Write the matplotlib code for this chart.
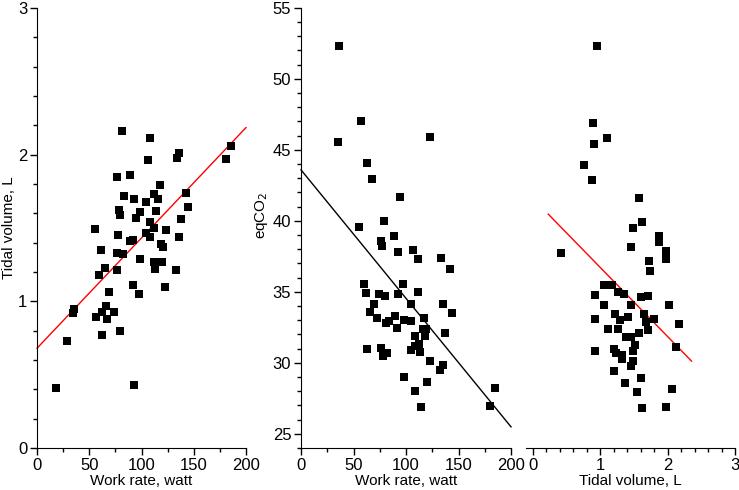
import numpy as np
import matplotlib.pyplot as plt
from matplotlib.ticker import MultipleLocator

plt.rcParams['font.family'] = ['Liberation Sans', 'DejaVu Sans']
plt.rcParams['font.size'] = 12

# panel A: work rate vs tidal volume
work_a = [81.7, 108.5, 185.3, 135.6, 133.7, 180.8, 106.5, 76.2, 88.7, 117.7,
          111.7, 115.8, 83.5, 92.5, 104.3, 142.6, 144.8, 78.5, 79.7, 98.6,
          114.2, 94.4, 137.8, 108.5, 112.3, 55.5, 123.5, 104.3, 77.2, 108.5,
          135.6, 89.3, 91.9, 119.0, 120.9, 61.2, 76.8, 82.6, 98.6, 111.7,
          119.6, 113.2, 65.4, 76.2, 59.0, 132.7, 91.6, 122.5, 97.3, 69.2,
          35.4, 34.2, 66.3, 62.2, 74.0, 56.5, 67.3, 79.7, 62.5, 28.4,
          18.2, 92.5]
vt_a = [2.16, 2.11, 2.06, 2.01, 1.975, 1.97, 1.96, 1.85, 1.86, 1.79,
        1.73, 1.70, 1.72, 1.70, 1.68, 1.74, 1.64, 1.62, 1.59, 1.61,
        1.615, 1.57, 1.56, 1.54, 1.50, 1.49, 1.486, 1.466, 1.45, 1.44,
        1.44, 1.41, 1.42, 1.39, 1.37, 1.35, 1.33, 1.32, 1.29, 1.27,
        1.27, 1.22, 1.23, 1.21, 1.18, 1.21, 1.11, 1.10, 1.05, 1.06,
        0.95, 0.92, 0.97, 0.93, 0.93, 0.89, 0.88, 0.80, 0.77, 0.73,
        0.41, 0.43]
fit_a = (0.68, 0.00752)  # intercept, slope

# panel B: work rate vs eqCO2
work_b = [35.9, 56.8, 34.9, 122.5, 62.8, 67.6, 94.5, 78.7, 55.5, 88.5,
          76.5, 77.4, 92.3, 106.3, 111.4, 133.3, 142.2, 59.7, 97.4, 61.9,
          74.5, 79.7, 92.6, 111.4, 69.8, 104.4, 135.2, 66.0, 144.0, 72.6,
          89.8, 83.5, 81.2, 98.1, 104.4, 117.1, 91.1, 115.8, 119.0, 137.4,
          108.5, 118.0, 63.1, 76.2, 82.2, 77.8, 104.4, 108.2, 112.3, 113.6,
          123.1, 132.3, 135.5, 98.3, 120.2, 108.5, 114.2, 179.9, 185.0]
eqco2_b = [52.30, 47.04, 45.56, 45.92, 44.04, 42.96, 41.71, 40.0, 39.6, 38.96,
           38.57, 38.26, 37.82, 37.91, 37.28, 37.35, 36.60, 35.56, 35.54, 34.93,
           34.86, 34.72, 34.86, 35.02, 34.13, 34.15, 34.11, 33.57, 33.52, 33.19,
           33.29, 32.98, 32.80, 33.05, 32.91, 33.15, 32.44, 32.37, 32.37, 32.13,
           31.90, 31.92, 30.94, 31.01, 30.68, 30.45, 30.92, 31.20, 31.34, 30.75,
           30.16, 29.51, 29.86, 29.01, 28.66, 27.98, 26.90, 26.95, 28.22]
fit_b = (43.59, -0.0905)

# panel C: tidal volume vs eqCO2
vt_c = [0.946, 0.89, 1.10, 0.91, 0.765, 0.874, 1.573, 1.62, 1.49, 1.866,
        1.866, 1.45, 0.42, 1.97, 1.98, 1.73, 1.74, 1.05, 1.18, 0.93,
        1.26, 1.36, 1.60, 1.71, 1.06, 1.46, 2.02, 1.22, 1.65, 0.93,
        1.30, 1.42, 1.80, 1.68, 2.17, 1.11, 1.27, 1.71, 1.57, 1.39,
        1.45, 1.51, 0.93, 1.21, 1.24, 1.33, 1.48, 2.12, 1.32, 1.49,
        1.45, 1.21, 1.61, 1.37, 2.06, 1.54, 1.62, 1.97]
eqco2_c = [52.29, 46.92, 45.82, 45.44, 43.94, 42.87, 41.60, 39.90, 39.51, 38.90,
           38.52, 38.19, 37.75, 37.84, 37.30, 37.18, 36.50, 35.47, 35.51, 34.77,
           35.0, 34.86, 34.63, 34.74, 34.06, 34.08, 34.04, 33.47, 33.45, 33.12,
           33.05, 33.22, 33.07, 32.84, 32.75, 32.39, 32.35, 32.32, 32.09, 31.83,
           31.81, 31.25, 30.85, 30.96, 30.68, 30.56, 30.82, 31.08, 30.26, 30.12,
           29.79, 29.44, 28.94, 28.59, 28.15, 27.91, 26.83, 26.88]
fit_c = (41.59, -4.87)
fit_c_range = (0.23, 2.355)


def style_axis(ax, show_y=True):
    ax.spines['top'].set_visible(False)
    ax.spines['right'].set_visible(False)
    if not show_y:
        ax.spines['left'].set_visible(False)
        ax.set_yticks([])
    ax.tick_params(which='major', direction='out', length=5, width=1, pad=2)
    ax.tick_params(which='minor', direction='out', length=3, width=1)


fig = plt.figure(figsize=(7.39, 4.9), dpi=100)
bottom, top = 0.0857, 0.984
ax1 = fig.add_axes([0.0501, bottom, 0.2828, top - bottom])
ax2 = fig.add_axes([0.4073, bottom, 0.2842, top - bottom])
ax3 = fig.add_axes([0.7118, bottom, 0.2828, top - bottom])

sq = dict(marker='s', s=30, color='black', linewidths=0, zorder=3)
lab = dict(fontsize=11)

# left
ax1.scatter(work_a, vt_a, **sq)
xx = np.array([0, 200])
ax1.plot(xx, fit_a[0] + fit_a[1] * xx, color='red', lw=1, clip_on=False)
ax1.set_xlim(0, 200)
ax1.set_ylim(0, 3)
ax1.xaxis.set_major_locator(MultipleLocator(50))
ax1.xaxis.set_minor_locator(MultipleLocator(25))
ax1.yaxis.set_major_locator(MultipleLocator(1))
ax1.yaxis.set_minor_locator(MultipleLocator(0.2))
ax1.set_xlabel('Work rate, watt', labelpad=1, **lab)
ax1.set_ylabel('Tidal volume, L', **lab)
ax1.yaxis.set_label_coords(-0.10, 0.5)
style_axis(ax1)

# middle
ax2.scatter(work_b, eqco2_b, **sq)
ax2.plot(xx, fit_b[0] + fit_b[1] * xx, color='black', lw=1, clip_on=False)
ax2.set_xlim(0, 200)
ax2.set_ylim(24, 55)
ax2.xaxis.set_major_locator(MultipleLocator(50))
ax2.xaxis.set_minor_locator(MultipleLocator(25))
ax2.set_yticks([25, 30, 35, 40, 45, 50, 55])
ax2.yaxis.set_minor_locator(MultipleLocator(1))
ax2.set_xlabel('Work rate, watt', labelpad=1, **lab)
ax2.set_ylabel('eqCO$_2$', **lab)
ax2.yaxis.set_label_coords(-0.147, 0.53)
style_axis(ax2)

# right
ax3.scatter(vt_c, eqco2_c, **sq)
xc = np.array(fit_c_range)
ax3.plot(xc, fit_c[0] + fit_c[1] * xc, color='red', lw=1)
ax3.set_xlim(-0.1, 3)
ax3.set_ylim(24, 55)
ax3.set_xticks([0, 1, 2, 3])
ax3.xaxis.set_minor_locator(MultipleLocator(0.2))
ax3.set_xlabel('Tidal volume, L', labelpad=1, **lab)
style_axis(ax3, show_y=False)

plt.savefig('out.png', dpi=100)
